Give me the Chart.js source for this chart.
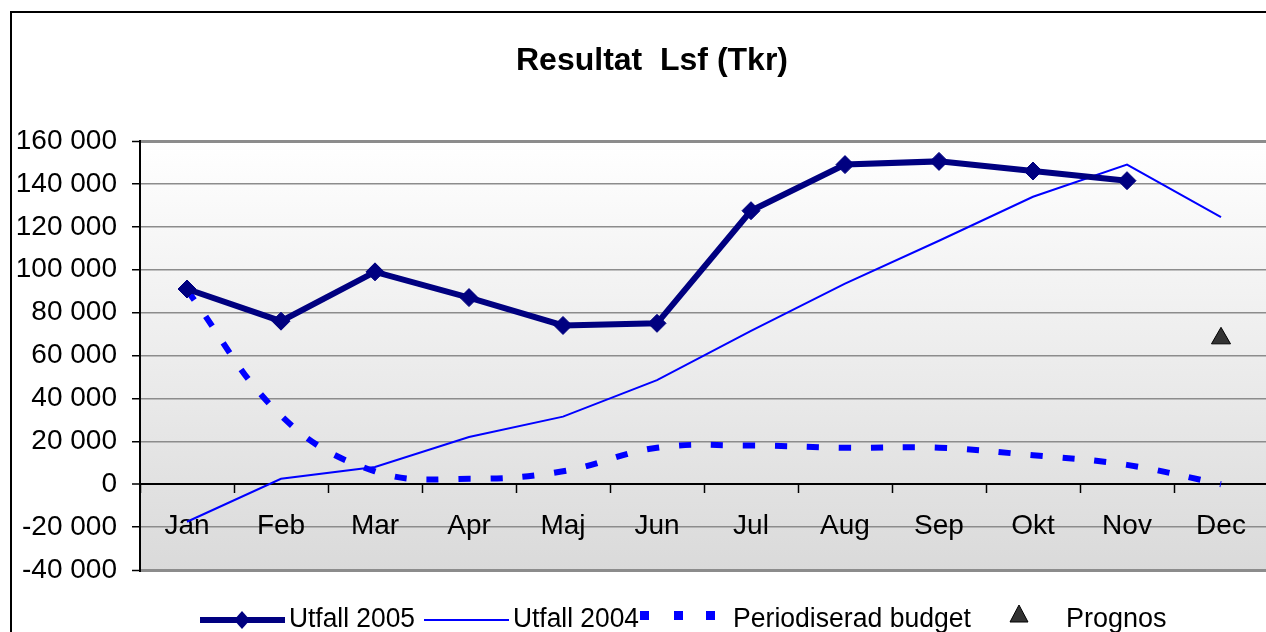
<!DOCTYPE html>
<html>
<head>
<meta charset="utf-8">
<script src="https://cdn.jsdelivr.net/npm/chart.js@4.4.1/dist/chart.umd.min.js"></script>
<style>
  html, body { margin: 0; padding: 0; overflow: hidden; background: #fff; }
  #wrap { position: absolute; left: 0; top: 0; width: 1304px; height: 632px; }
</style>
</head>
<body>
<div id="wrap"><canvas id="chart"></canvas></div>
<script>
// Data (Tkr)
const months = ['Jan', 'Feb', 'Mar', 'Apr', 'Maj', 'Jun', 'Jul', 'Aug', 'Sep', 'Okt', 'Nov', 'Dec'];
const utfall2005 = [91000, 76000, 99000, 87000, 74000, 75000, 127500, 149000, 150500, 146000, 141500, null];
const utfall2004 = [-17500, 2500, 8000, 22000, 31500, 48500, 71500, 93500, 113500, 134000, 149000, 124500];
const budget = [90500, 32000, 6000, 2500, 6000, 17000, 18000, 17000, 17000, 13500, 9000, 0];
const prognos = [null, null, null, null, null, null, null, null, null, null, null, 68000];

const FONT = 'Arial, "Liberation Sans", sans-serif';

// Tusental med mellanslag: 160000 -> "160 000"
function fmt(v) {
    const s = Math.abs(v).toString().replace(/\B(?=(\d{3})+(?!\d))/g, ' ');
    return (v < 0 ? '-' : '') + s;
}

// Ram, titel och gradient bakom plottytan
const frame = {
    id: 'frame',
    beforeDraw(chart) {
        const { ctx, chartArea: a } = chart;
        ctx.save();
        const g = ctx.createLinearGradient(0, a.top, 0, a.bottom);
        g.addColorStop(0, '#ffffff');
        g.addColorStop(1, '#dadada');
        ctx.fillStyle = g;
        ctx.fillRect(a.left, a.top, a.right - a.left, a.bottom - a.top);
        ctx.restore();
    },
    afterDraw(chart) {
        const { ctx } = chart;
        ctx.save();
        ctx.strokeStyle = '#000';
        ctx.lineWidth = 2;
        ctx.strokeRect(11, 12, chart.width - 22, chart.height + 20);
        ctx.fillStyle = '#000';
        ctx.font = 'bold 32px ' + FONT;
        ctx.textAlign = 'center';
        ctx.textBaseline = 'middle';
        ctx.fillText('Resultat  Lsf (Tkr)', chart.width / 2, 61);
        ctx.restore();
    }
};

// Egen legend i Excel-stil
const legendX = [200, 424, 640, 1006];
const legendY = 620;
const excelLegend = {
    id: 'excelLegend',
    afterDraw(chart) {
        const { ctx } = chart;
        const ds = chart.data.datasets;
        ctx.save();
        ctx.font = '27px ' + FONT;
        ctx.textBaseline = 'middle';
        ctx.fillStyle = '#000';
        ds.forEach((d, i) => {
            const x = legendX[i];
            if (i === 0 || i === 1) {
                ctx.strokeStyle = d.borderColor;
                ctx.lineWidth = d.borderWidth;
                ctx.beginPath();
                ctx.moveTo(x, legendY);
                ctx.lineTo(x + 85, legendY);
                ctx.stroke();
                if (i === 0) {
                    ctx.fillStyle = d.borderColor;
                    ctx.beginPath();
                    ctx.moveTo(x + 42, legendY - 9);
                    ctx.lineTo(x + 50, legendY);
                    ctx.lineTo(x + 42, legendY + 9);
                    ctx.lineTo(x + 34, legendY);
                    ctx.closePath();
                    ctx.fill();
                    ctx.fillStyle = '#000';
                }
                ctx.fillText(d.label, x + 89, legendY, 126);
            } else if (i === 2) {
                ctx.fillStyle = d.borderColor;
                [0, 34, 66].forEach(dx => ctx.fillRect(x + dx, legendY - 9, 9, 9));
                ctx.fillStyle = '#000';
                ctx.fillText(d.label, x + 93, legendY, 238);
            } else {
                ctx.fillStyle = '#333';
                ctx.strokeStyle = '#000';
                ctx.lineWidth = 1;
                ctx.beginPath();
                ctx.moveTo(x + 13, legendY - 15);
                ctx.lineTo(x + 22, legendY + 2);
                ctx.lineTo(x + 4, legendY + 2);
                ctx.closePath();
                ctx.fill();
                ctx.stroke();
                ctx.fillStyle = '#000';
                ctx.fillText(d.label, x + 60, legendY);
            }
        });
        ctx.restore();
    }
};

new Chart(document.getElementById('chart'), {
    type: 'line',
    data: {
        labels: months,
        datasets: [
            {
                label: 'Utfall 2005',
                data: utfall2005,
                borderColor: '#000080',
                backgroundColor: '#000080',
                borderWidth: 6,
                pointStyle: 'rectRot',
                pointRadius: 9,
                pointBorderWidth: 1,
                tension: 0
            },
            {
                label: 'Utfall 2004',
                data: utfall2004,
                borderColor: '#0000ff',
                borderWidth: 2,
                pointRadius: 0,
                tension: 0
            },
            {
                label: 'Periodiserad budget',
                data: budget,
                borderColor: '#0000ff',
                borderWidth: 6,
                borderDash: [12, 20],
                borderCapStyle: 'butt',
                pointRadius: 0,
                tension: 0.4
            },
            {
                label: 'Prognos',
                data: prognos,
                showLine: false,
                pointStyle: 'triangle',
                pointRadius: 11,
                pointBackgroundColor: '#333333',
                pointBorderColor: '#000',
                pointBorderWidth: 1
            }
        ]
    },
    options: {
        responsive: true,
        maintainAspectRatio: false,
        animation: false,
        layout: { padding: { top: 141, right: 36, bottom: 62, left: 0 } },
        plugins: {
            legend: { display: false },
            title: { display: false },
            tooltip: { enabled: false }
        },
        scales: {
            x: {
                position: { y: 0 },
                offset: true,
                grid: {
                    offset: true,
                    drawOnChartArea: false,
                    drawTicks: true,
                    tickLength: 8,
                    tickColor: '#000',
                    tickWidth: 1.5
                },
                border: { color: '#000', width: 2 },
                ticks: {
                    color: '#000',
                    font: { family: FONT, size: 28 },
                    padding: 17,
                    maxRotation: 0,
                    autoSkip: false
                }
            },
            y: {
                min: -40000,
                max: 160000,
                afterFit(scale) { scale.width = 140; },
                grid: {
                    color: (c) => c.tick && c.tick.value === 0 ? '#000' : '#8c8c8c',
                    lineWidth: (c) => {
                        if (!c.tick) return 1.5;
                        if (c.tick.value === 160000 || c.tick.value === -40000) return 3;
                        return c.tick.value === 0 ? 2 : 1.5;
                    },
                    tickColor: '#000',
                    tickLength: 8,
                    tickWidth: 1.5
                },
                border: { color: '#000', width: 2 },
                ticks: {
                    stepSize: 20000,
                    color: '#000',
                    padding: 15,
                    font: { family: FONT, size: 28 },
                    callback: (v) => fmt(v)
                }
            }
        }
    },
    plugins: [frame, excelLegend]
});
</script>
</body>
</html>
